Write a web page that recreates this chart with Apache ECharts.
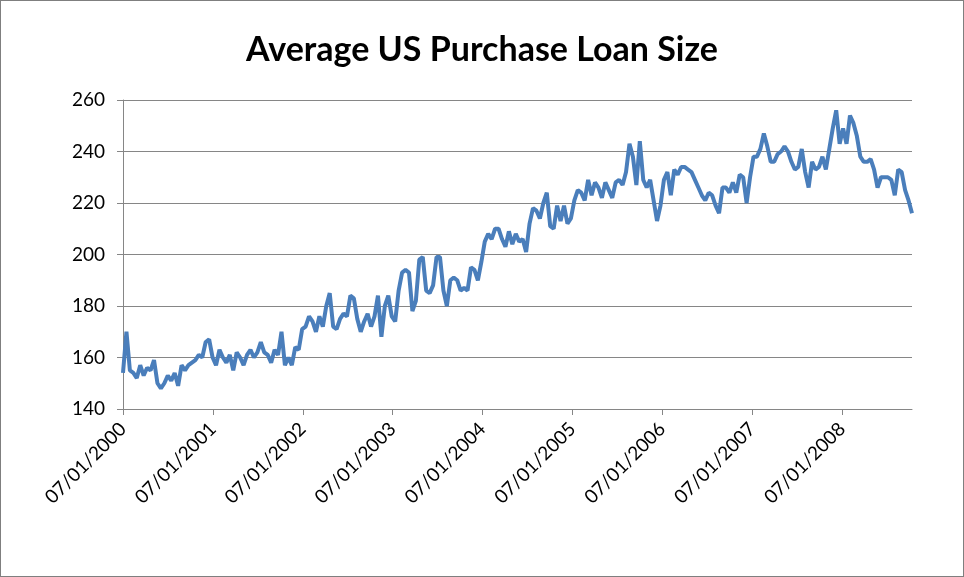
<!DOCTYPE html>
<html>
<head>
<meta charset="utf-8">
<script src="https://cdn.jsdelivr.net/npm/echarts@6/dist/echarts.min.js"></script>
<style>
  html, body { margin: 0; padding: 0; background: #fff; }
  #chart { width: 962px; height: 575px; border: 1px solid #7f7f7f; }
</style>
</head>
<body>
<div id="chart"></div>
<script>
'use strict';
// biweekly series, first point 07/01/2000
var startYear = 2000;
var stepDays = 14;

// average purchase loan size ($k), one array per year from July
var y2000 = [154, 170, 155, 154, 152, 157, 153, 156, 155, 159, 150, 148, 150, 153, 151, 154, 149, 157, 155, 157, 158, 159, 161, 160, 166, 167];
var y2001 = [160, 157, 163, 160, 158, 161, 155, 162, 160, 157, 161, 163, 160, 162, 166, 162, 161, 158, 163, 161, 170, 157, 160, 157, 164, 163];
var y2002 = [171, 172, 176, 174, 170, 176, 172, 180, 185, 172, 171, 175, 177, 176, 184, 183, 175, 170, 174, 177, 172, 176, 184, 168, 180, 184];
var y2003 = [176, 174, 186, 193, 194, 193, 178, 182, 198, 199, 186, 185, 188, 199, 199, 186, 180, 190, 191, 190, 186, 187, 186, 195, 194, 190];
var y2004 = [197, 205, 208, 206, 210, 210, 206, 203, 209, 204, 208, 205, 206, 201, 212, 218, 217, 214, 220, 224, 211, 210, 219, 213, 219, 212];
var y2005 = [214, 221, 225, 224, 221, 229, 223, 228, 226, 222, 228, 225, 222, 228, 229, 227, 232, 243, 238, 227, 244, 229, 226, 229, 221, 213];
var y2006 = [219, 229, 232, 223, 233, 231, 234, 234, 233, 232, 229, 226, 223, 221, 224, 223, 219, 216, 226, 226, 224, 228, 224, 231, 230, 220];
var y2007 = [230, 238, 238, 241, 247, 242, 236, 236, 239, 240, 242, 240, 236, 233, 234, 241, 232, 226, 236, 233, 234, 238, 233, 241, 249, 256];
var y2008 = [243, 249, 243, 254, 251, 246, 238, 236, 236, 237, 233, 226, 230, 230, 230, 229, 223, 233, 232, 225, 221, 216];

var loanSize = [].concat(y2000, y2001, y2002, y2003, y2004, y2005, y2006, y2007, y2008);

// x position in years since 07/01/2000
var points = loanSize.map(function (v, i) {
    return [i * stepDays / 365.25, v];
});
var lastX = points[points.length - 1][0];

var myChart = echarts.init(document.getElementById('chart'));
var option = {
    animation: false,
    backgroundColor: '#fff',
    title: {
        text: 'Average US Purchase Loan Size',
        left: 'center',
        top: 27,
        textStyle: {
            fontFamily: 'Lato',
            fontWeight: 'bold',
            fontSize: 34,
            color: '#000'
        }
    },
    grid: {
        left: 122,
        right: 51,
        top: 99,
        bottom: 167,
        containLabel: false
    },
    xAxis: {
        type: 'value',
        min: 0,
        max: lastX,
        interval: 1,
        axisLine: { show: true, lineStyle: { color: '#868686', width: 1 } },
        axisTick: { show: true, length: 6, lineStyle: { color: '#868686' } },
        splitLine: { show: false },
        axisLabel: {
            rotate: 45,
            margin: 17,
            fontFamily: 'Lato',
            fontSize: 19,
            color: '#000',
            showMaxLabel: false,
            formatter: function (v) {
                if (Math.abs(v - Math.round(v)) > 1e-6) return '';
                return '07/01/' + (startYear + Math.round(v));
            }
        }
    },
    yAxis: {
        type: 'value',
        min: 140,
        max: 260,
        interval: 20,
        axisLine: { show: true, lineStyle: { color: '#868686', width: 1 } },
        axisTick: { show: true, length: 6, lineStyle: { color: '#868686' } },
        splitLine: { show: true, lineStyle: { color: '#868686', width: 1.2 } },
        axisLabel: {
            margin: 18,
            fontFamily: 'Lato',
            fontSize: 19,
            color: '#000'
        }
    },
    series: [{
        name: 'Loan size',
        type: 'line',
        data: points,
        showSymbol: false,
        lineStyle: { color: '#4a7ebb', width: 4 },
        itemStyle: { color: '#4a7ebb' }
    }]
};
myChart.setOption(option);
</script>
</body>
</html>
